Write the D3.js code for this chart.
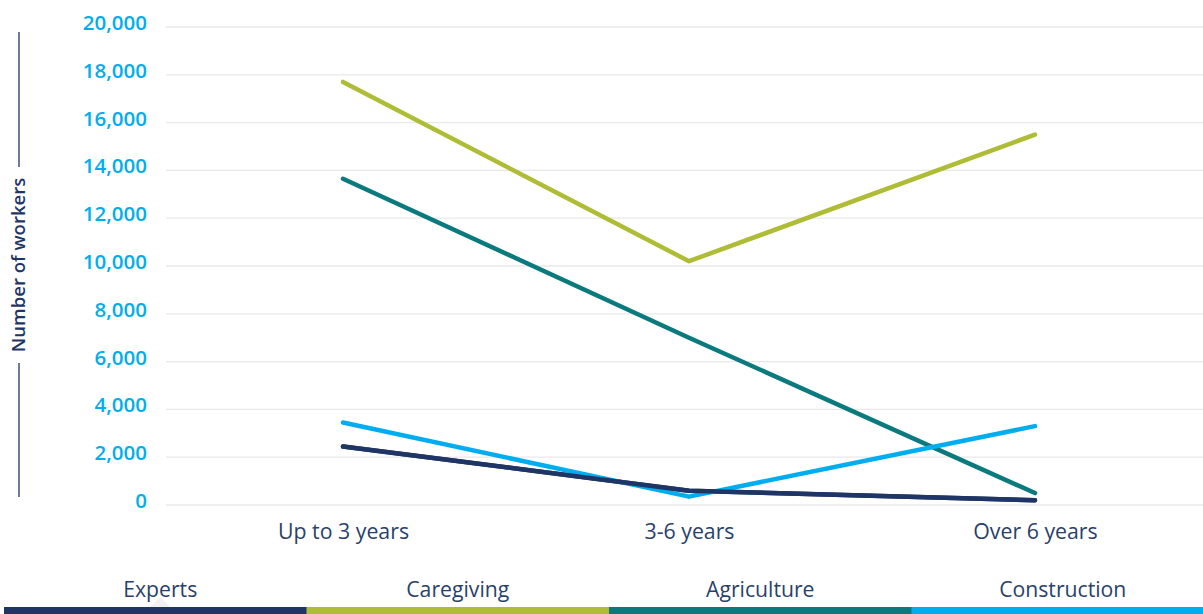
<!DOCTYPE html>
<html><head><meta charset="utf-8">
<script src="https://cdn.jsdelivr.net/npm/d3@7/dist/d3.min.js"></script>
<style>body{margin:0;background:#fff;font-family:"Open Sans",sans-serif;}</style>
</head><body><svg id="c" width="1203" height="614"></svg>
<script>
const categories = ["Up to 3 years", "3-6 years", "Over 6 years"];
const seriesNames = ["Experts", "Caregiving", "Agriculture", "Construction"];
const experts = [2450, 600, 200];
const caregiving = [17700, 10200, 15500];
const agriculture = [13650, 7000, 500];
const construction = [3450, 350, 3300];
const yTicks = [0, 2000, 4000, 6000, 8000, 10000, 12000, 14000, 16000, 18000, 20000];
const colors = ["#1f3565", "#aebd35", "#0b7a7e", "#00aeef"];
const seriesValues = [experts, caregiving, agriculture, construction];

const svg = d3.select("#c");
const W = 1203;
const y = d3.scaleLinear().domain([0, 20000]).range([505, 27]);
const x = d3.scalePoint().domain(categories).range([343, 1035]);

// gridlines
svg.append("g").selectAll("line").data(yTicks).join("line")
  .attr("x1", 166).attr("x2", W).attr("y1", d => y(d)).attr("y2", d => y(d))
  .attr("stroke", "#e8e8e8").attr("stroke-width", 1.3);

// y axis labels
const yAxis = svg.append("g").attr("transform", "translate(147,0)")
  .call(d3.axisLeft(y).tickValues(yTicks).tickFormat(d3.format(",")).tickSize(0).tickPadding(0));
yAxis.select(".domain").remove();
yAxis.selectAll("text").attr("fill", "#00aeef").attr("font-size", 20.5)
  .attr("font-family", "'Open Sans', sans-serif").attr("font-weight", 600).attr("dy", "0.12em");

// x axis labels
const xAxis = svg.append("g").attr("transform", "translate(0,505)")
  .call(d3.axisBottom(x).tickSize(0).tickPadding(19));
xAxis.select(".domain").remove();
xAxis.selectAll("text").attr("fill", "#2a3f6b").attr("font-size", 21.3)
  .attr("font-family", "'Open Sans', sans-serif").attr("dy", "0.71em");

// y title
svg.append("text").attr("transform", "translate(25,265) rotate(-90)")
  .attr("text-anchor", "middle").attr("fill", "#1f3565").attr("font-size", 18.5)
  .attr("font-weight", 600).text("Number of workers");
svg.append("line").attr("x1", 19).attr("x2", 19).attr("y1", 32).attr("y2", 167)
  .attr("stroke", "#1f3565").attr("stroke-width", 1.3);
svg.append("line").attr("x1", 19).attr("x2", 19).attr("y1", 363).attr("y2", 497)
  .attr("stroke", "#1f3565").attr("stroke-width", 1.3);

// lines
const line = d3.line().x((d, i) => x(categories[i])).y(d => y(d));
svg.append("g").selectAll("path").data(seriesValues).join("path")
  .attr("d", d => line(d)).attr("fill", "none")
  .attr("stroke", (d, i) => colors[i]).attr("stroke-width", 4.5)
  .attr("stroke-linecap", "round").attr("stroke-linejoin", "round");
// redraw experts on top
svg.append("path").attr("d", line(experts)).attr("fill", "none")
  .attr("stroke", colors[0]).attr("stroke-width", 4.5)
  .attr("stroke-linecap", "round").attr("stroke-linejoin", "round");

// legend
const lx = d3.scaleBand().domain(seriesNames).range([4, 1214]);
const lg = svg.append("g");
const ec = lx("Experts") + lx.bandwidth() / 2 + 5;
lg.append("path").attr("d", `M${ec - 10},607 L${ec},597 L${ec + 10},607 Z`)
  .attr("fill", "#f2f2f2");
lg.selectAll("rect").data(seriesNames).join("rect")
  .attr("x", d => lx(d)).attr("width", lx.bandwidth() + 0.5).attr("y", 607).attr("height", 7)
  .attr("fill", (d, i) => colors[i]);
lg.selectAll("text").data(seriesNames).join("text")
  .attr("x", (d, i) => lx(d) + lx.bandwidth() / 2 + (i === 0 ? 5 : 0)).attr("y", 597)
  .attr("text-anchor", "middle").attr("fill", "#2a3f6b").attr("font-size", 21.2)
  .text(d => d);
</script></body></html>
